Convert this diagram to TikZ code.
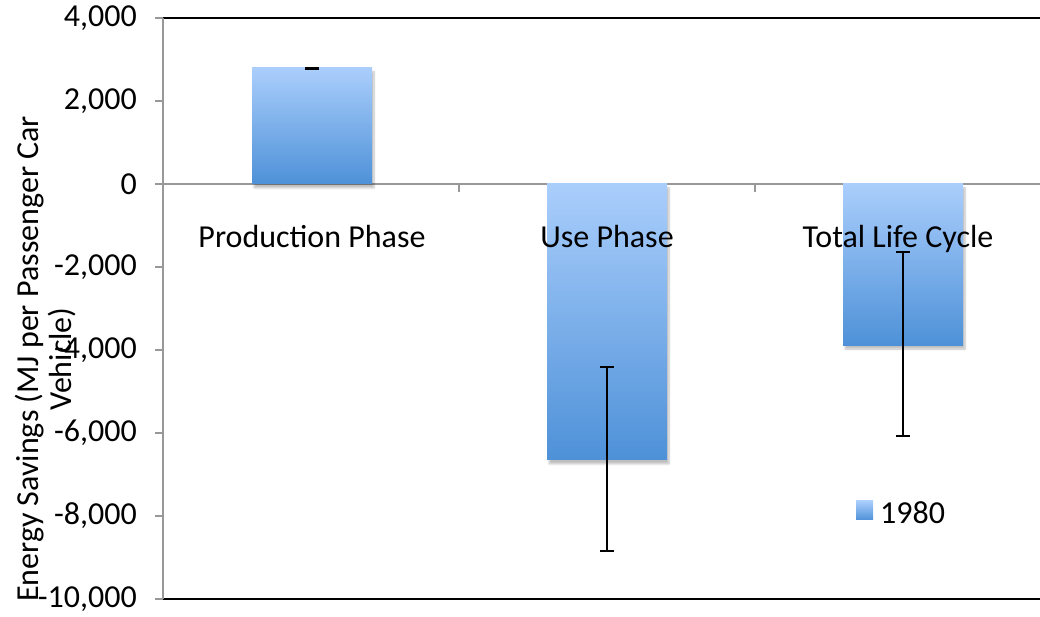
\documentclass[tikz,border=0pt]{standalone}
\usepackage{fontspec}
\setmainfont{Carlito}
\usetikzlibrary{shadows.blur}
\definecolor{barTop}{RGB}{170,206,252}
\definecolor{barBot}{RGB}{78,145,216}
\definecolor{axGrey}{RGB}{152,152,152}
\tikzset{
  cBar/.style={top color=barTop,bottom color=barBot,draw=none,
        blur shadow={shadow xshift=2pt,shadow yshift=-4pt,
        shadow blur steps=6,shadow opacity=25}},
  cErr/.style={line width=2pt,black},
  cTxt/.style={font=\fontsize{32}{33}\selectfont,inner sep=0pt},
  cTick/.style={cTxt,anchor=east},
  cCat/.style={cTxt,anchor=base},
  cAxis/.style={axGrey,line width=2pt},
  cFrame/.style={black,line width=2pt},
}

\begin{document}
\begin{tikzpicture}[x=1pt,y=1pt]
\useasboundingbox (0,0) rectangle (1040,617);
% y axis title
\node[cTxt,rotate=90,align=center] (ytitle) at (46,258)
  {Energy Savings (MJ per Passenger Car\\Vehicle)};
% plot area, y in MJ
\begin{scope}[y=0.0415pt,yshift=433pt]
\draw[cFrame] (163,4000) -- (1060,4000);
\draw[cFrame] (163,-10000) -- (1060,-10000);
\draw[cAxis] (163,4000) -- (163,-10000);
\draw[cAxis] (163,0) -- (1060,0);
\foreach \v/\t in {4000/{4,000},2000/{2,000},0/0,-2000/{-2,000},-4000/{-4,000},
    -6000/{-6,000},-8000/{-8,000},-10000/{-10,000}}{
  \draw[cAxis] (155,\v) -- (163,\v);
  \node[cTick] at (137,\v) {\t};
}
\draw[cAxis] (459,0) -- (459,-200);
\draw[cAxis] (755,0) -- (755,-200);
% bars
\path[cBar] (252,0) rectangle (372,2800);
\path[cBar] (547,0) rectangle (667,-6650);
\path[cBar] (843,0) rectangle (963,-3880);
% category labels
\node[cCat] (lblProd) at (312,-1520) {Production Phase};
\node[cCat] (lblUse)  at (607,-1520) {Use Phase};
\node[cCat] (lblTot)  at (898,-1520) {Total Life Cycle};
% error bars
\draw[cErr,line width=3pt] (305,2790) -- (319,2790);
\draw[cErr] (607,-4420) -- (607,-8850);
\draw[cErr] (600,-4420) -- (614,-4420);
\draw[cErr] (600,-8850) -- (614,-8850);
\draw[cErr] (903,-1650) -- (903,-6070);
\draw[cErr] (896,-1650) -- (910,-1650);
\draw[cErr] (896,-6070) -- (910,-6070);
\end{scope}
% legend
\shade[top color=barTop,bottom color=barBot] (856,97) rectangle (873,116);
\node[cTxt,anchor=west] (leg) at (880,104) {1980};
\end{tikzpicture}
\end{document}
